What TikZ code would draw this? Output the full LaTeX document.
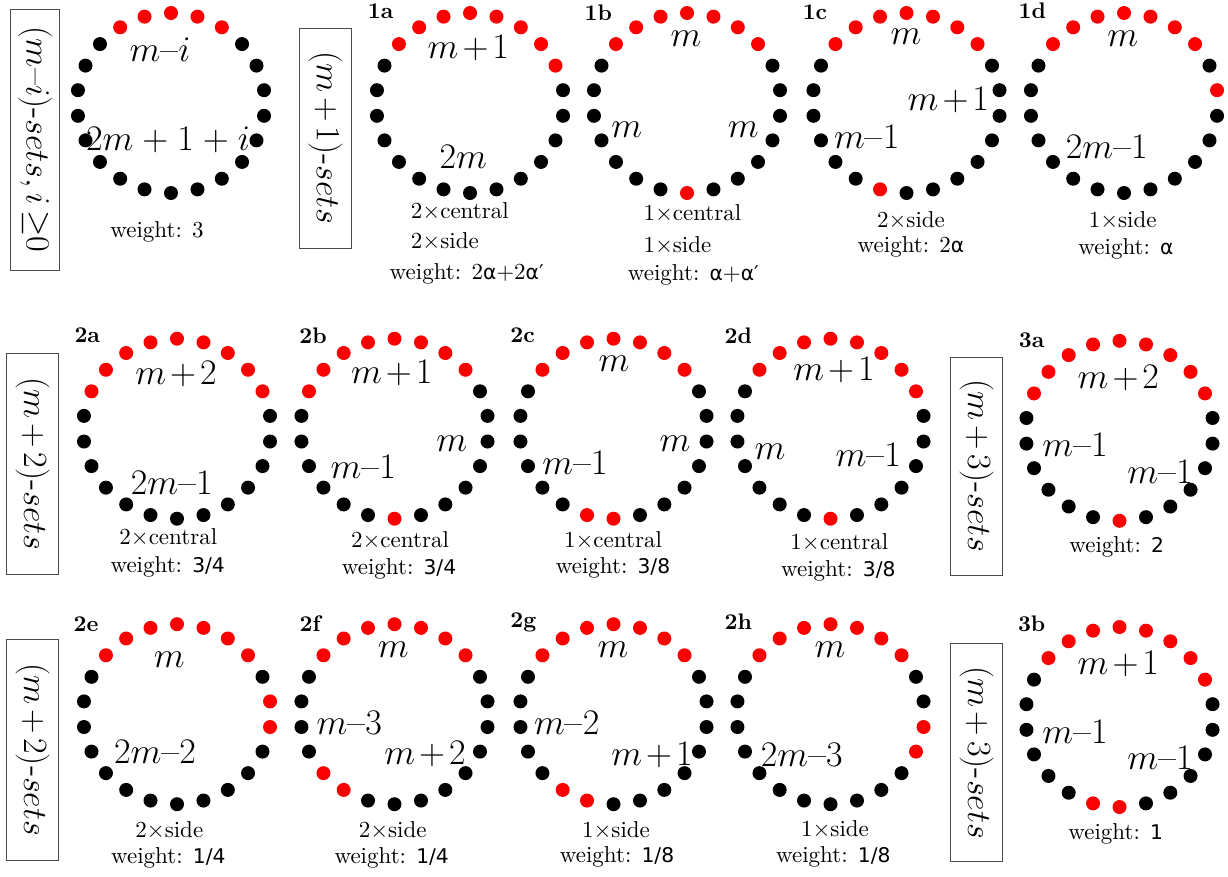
\RequirePackage{fix-cm}
\documentclass[tikz,border=0pt]{standalone}
\usepackage{fontspec}
\setmainfont{lmroman10-regular.otf}[BoldFont=lmroman10-bold.otf,ItalicFont=lmroman10-italic.otf]
\newfontfamily\dv{DejaVu Sans}[Scale=0.88]
\definecolor{ringred}{RGB}{250,0,0}
\newcommand\dsh{\mbox{--}}
\newcommand\tightA{\medmuskip=2mu\relax}
\newcommand\tightB{\medmuskip=2.5mu\relax}
\newcommand\wideA{\medmuskip=4.5mu\relax}
\makeatletter
\newcommand\dotring[4]{%
  \foreach \k in {0,...,21}{%
    \edef\tmp{\noexpand\in@{,\k,}{,#4,}}\tmp
    \ifin@\def\dotcol{ringred}\else\def\dotcol{black}\fi
    \node[ringdot,fill=\dotcol] (#1-\k) at ({#2+94*cos(90-\k*360/22)},{#3-90*sin(90-\k*360/22)}) {};
  }}
\makeatother
\tikzset{
  ringdot/.style={circle,inner sep=0pt,minimum size=14pt,draw=none},
  lab/.style={font=\fontsize{36}{42}\selectfont\tightA,inner sep=0pt},
  tag/.style={font=\bfseries\fontsize{22.5}{27}\selectfont,inner sep=0pt},
  note/.style={font=\fontsize{23}{27}\selectfont,inner sep=0pt},
  setbox/.style={draw=black!70,line width=0.9pt,rotate=-90,inner sep=0pt,
    font=\fontsize{34}{40}\selectfont\tightB}
}
\begin{document}
\begin{tikzpicture}[x=1pt,y=-1pt]
\fill[white] (0,0) rectangle (1228,876);
\useasboundingbox (0,0) rectangle (1228,876);

% ---------- side boxes ----------
\node[setbox,minimum width=261pt,minimum height=48.5pt] (b0) at (35,139.7) {$(m\dsh i)$-$sets,i\,{\geq}0$};
\node[setbox,minimum width=220pt,minimum height=52.5pt] (b1) at (325.3,138.3) {$(m+1)$-$sets$};
\node[setbox,minimum width=221.7pt,minimum height=51.7pt] (b2) at (32.5,464) {$(m+2)$-$sets$};
\node[setbox,minimum width=220.7pt,minimum height=51.7pt] (b2b) at (32.5,749.7) {$(m+2)$-$sets$};
\node[setbox,minimum width=217.7pt,minimum height=52pt] (b3) at (976.7,466.2) {$(m+3)$-$sets$};
\node[setbox,minimum width=218.3pt,minimum height=52pt] (b3b) at (976.7,752.5) {$(m+3)$-$sets$};

% ---------- rings ----------
\dotring{r0}{171}{103}{0,1,2,20,21}
\dotring{r1a}{470}{103}{0,1,2,3,4,19,20,21}
\dotring{r1b}{687}{103}{0,1,2,3,11,19,20,21}
\dotring{r1c}{906.5}{103}{0,1,2,3,12,19,20,21}
\dotring{r1d}{1124}{103}{0,1,2,3,5,19,20,21}
\dotring{r2a}{177}{428.7}{0,1,2,3,4,18,19,20,21}
\dotring{r2b}{394.5}{428.7}{0,1,2,3,11,18,19,20,21}
\dotring{r2c}{613.5}{428.7}{0,1,2,3,11,12,19,20,21}
\dotring{r2d}{830.5}{428.7}{0,1,2,3,4,11,19,20,21}
\dotring{r3a}{1119.5}{430.8}{0,1,2,3,4,11,18,19,20,21}
\dotring{r2e}{177}{714.2}{0,1,2,3,5,6,19,20,21}
\dotring{r2f}{394.5}{714.2}{0,1,2,3,13,14,19,20,21}
\dotring{r2g}{613.5}{714.2}{0,1,2,3,12,13,19,20,21}
\dotring{r2h}{830.5}{714.2}{0,1,2,3,6,7,19,20,21}
\dotring{r3b}{1119.5}{717}{0,1,2,3,4,11,12,19,20,21}

% ---------- ring 0 ----------
\node[lab] (l0a) at (160,50) {$m\dsh i$};
\node[lab,font=\fontsize{36}{42}\selectfont\wideA] (l0b) at (168,140) {$2m+1+i$};
\node[note] (w0) at (157,232) {weight: 3};

% ---------- 1a ----------
\node[tag] (t1a) at (380.7,11) {1a};
\node[lab] (l1a1) at (468.3,48) {$m+1$};
\node[lab] (l1a2) at (463.3,157) {$2m$};
\node[note,anchor=west] (n1a1) at (410.7,211.7) {2$\times$central};
\node[note,anchor=west] (n1a2) at (410.7,241.7) {2$\times$side};
\node[note] (w1a) at (466.7,274) {weight: 2{\dv α}+2{\dv α′}};

% ---------- 1b ----------
\node[tag] (t1b) at (598.3,12.7) {1b};
\node[lab] (l1b1) at (686,38.3) {$m$};
\node[lab] (l1b2) at (626.7,130) {$m$};
\node[lab] (l1b3) at (743.3,130) {$m$};
\node[note,anchor=west] (n1b1) at (643.3,213.3) {1$\times$central};
\node[note,anchor=west] (n1b2) at (643.3,245) {1$\times$side};
\node[note] (w1b) at (693.3,275) {weight: {\dv α}+{\dv α′}};

% ---------- 1c ----------
\node[tag] (t1c) at (815,11.7) {1c};
\node[lab] (l1c1) at (906,37) {$m$};
\node[lab] (l1c2) at (948.3,100) {$m+1$};
\node[lab] (l1c3) at (866.7,136.7) {$m\dsh1$};
\node[note] (n1c1) at (911,220) {2$\times$side};
\node[note] (w1c) at (911,247) {weight: 2{\dv α}};

% ---------- 1d ----------
\node[tag] (t1d) at (1032.3,10.7) {1d};
\node[lab] (l1d1) at (1122.7,38.3) {$m$};
\node[lab] (l1d2) at (1106.7,146.7) {$2m\dsh1$};
\node[note] (n1d1) at (1122.7,220.7) {1$\times$side};
\node[note] (w1d) at (1126,249.3) {weight: {\dv α}};

% ---------- 2a ----------
\node[tag] (t2a) at (87.3,335) {2a};
\node[lab] (l2a1) at (176,374) {$m+2$};
\node[lab] (l2a2) at (171.7,482.7) {$2m\dsh1$};
\node[note] (n2a1) at (168.3,537.7) {2$\times$central};
\node[note] (w2a) at (167.7,566.7) {weight: {\dv 3/4}};

% ---------- 2b ----------
\node[tag] (t2b) at (313,336) {2b};
\node[lab] (l2b1) at (391.7,373.3) {$m+1$};
\node[lab] (l2b2) at (451.7,443.3) {$m$};
\node[lab] (l2b3) at (363.3,466.7) {$m\dsh1$};
\node[note] (n2b1) at (400,540.7) {2$\times$central};
\node[note] (w2b) at (399,569.3) {weight: {\dv 3/4}};

% ---------- 2c ----------
\node[tag] (t2c) at (522.7,335) {2c};
\node[lab] (l2c1) at (614,364) {$m$};
\node[lab] (l2c2) at (675,443.3) {$m$};
\node[lab] (l2c3) at (575,463.3) {$m\dsh1$};
\node[note] (n2c1) at (613,540) {1$\times$central};
\node[note] (w2c) at (613,568) {weight: {\dv 3/8}};

% ---------- 2d ----------
\node[tag] (t2d) at (738.3,336) {2d};
\node[lab] (l2d1) at (834,370) {$m+1$};
\node[lab] (l2d2) at (770,451.7) {$m$};
\node[lab] (l2d3) at (868.3,455) {$m\dsh1$};
\node[note] (n2d1) at (839.3,542.3) {1$\times$central};
\node[note] (w2d) at (838.3,570.7) {weight: {\dv 3/8}};

% ---------- 3a ----------
\node[tag] (t3a) at (1031.7,340.7) {3a};
\node[lab] (l3a1) at (1118.3,378.3) {$m+2$};
\node[lab] (l3a2) at (1075,445) {$m\dsh1$};
\node[lab] (l3a3) at (1160,471.7) {$m\dsh1$};
\node[note] (w3a) at (1116.7,547.3) {weight: {\dv 2}};

% ---------- 2e ----------
\node[tag] (t2e) at (86,624) {2e};
\node[lab] (l2e1) at (169.3,659.3) {$m$};
\node[lab] (l2e2) at (155,751.7) {$2m\dsh2$};
\node[note] (n2e1) at (169.3,830) {2$\times$side};
\node[note] (w2e) at (168.3,857.7) {weight: {\dv 1/4}};

% ---------- 2f ----------
\node[tag] (t2f) at (310,624) {2f};
\node[lab] (l2f1) at (393.3,650) {$m$};
\node[lab] (l2f2) at (349.3,722.7) {$m\dsh3$};
\node[lab] (l2f3) at (425,754) {$m+2$};
\node[note] (n2f1) at (392.7,830) {2$\times$side};
\node[note] (w2f) at (391.7,857.7) {weight: {\dv 1/4}};

% ---------- 2g ----------
\node[tag] (t2g) at (523.3,622.7) {2g};
\node[lab] (l2g1) at (613,650) {$m$};
\node[lab] (l2g2) at (566.7,722.7) {$m\dsh2$};
\node[lab] (l2g3) at (652,755) {$m+1$};
\node[note] (n2g1) at (616,830) {1$\times$side};
\node[note] (w2g) at (617,857) {weight: {\dv 1/8}};

% ---------- 2h ----------
\node[tag] (t2h) at (738.3,621.7) {2h};
\node[lab] (l2h1) at (830,650) {$m$};
\node[lab] (l2h2) at (801.7,755) {$2m\dsh3$};
\node[note] (n2h1) at (835,829.3) {1$\times$side};
\node[note] (w2h) at (833.3,856.7) {weight: {\dv 1/8}};

% ---------- 3b ----------
\node[tag] (t3b) at (1031.7,624) {3b};
\node[lab] (l3b1) at (1118.3,664) {$m+1$};
\node[lab] (l3b2) at (1075,731.7) {$m\dsh1$};
\node[lab] (l3b3) at (1160,758.3) {$m\dsh1$};
\node[note] (w3b) at (1115.7,834) {weight: {\dv 1}};
\end{tikzpicture}
\end{document}
